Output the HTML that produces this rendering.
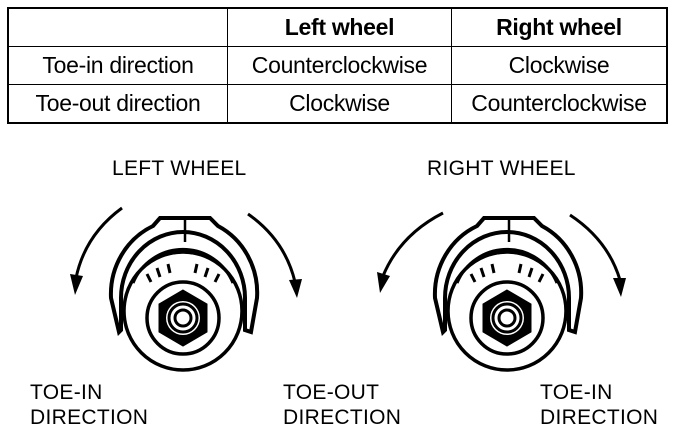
<!DOCTYPE html>
<html><head><style>
body{margin:0;background:#fff;width:688px;height:444px;overflow:hidden;font-family:"Liberation Sans",sans-serif}
table{position:absolute;left:7px;top:7px;border-collapse:collapse;border:2px solid #000}
td{border:1.5px solid #000;height:37px;text-align:center;font-size:23px;padding:0;letter-spacing:-0.3px}
svg{position:absolute;left:0;top:0}
.l{position:absolute;font-size:21px;line-height:25px;letter-spacing:0.3px}
</style></head><body>
<table>
<tr><td style="width:218px"></td><td style="width:223px;font-weight:bold">Left wheel</td><td style="width:214px;font-weight:bold">Right wheel</td></tr>
<tr><td>Toe-in direction</td><td>Counterclockwise</td><td>Clockwise</td></tr>
<tr><td>Toe-out direction</td><td>Clockwise</td><td>Counterclockwise</td></tr>
</table>
<div class="l" style="left:112px;top:156px">LEFT WHEEL</div>
<div class="l" style="left:427px;top:156px">RIGHT WHEEL</div>
<div class="l" style="left:30px;top:380px">TOE-IN<br>DIRECTION</div>
<div class="l" style="left:283px;top:380px">TOE-OUT<br>DIRECTION</div>
<div class="l" style="left:540px;top:380px">TOE-IN<br>DIRECTION</div>
<svg width="688" height="444">
<defs>
<g id="w" fill="none" stroke="#000">
<path d="M-64,14 L-72,-20 A72 75 0 0 1 -30,-92 L-23,-100 L27,-100 L35,-92 A72 75 0 0 1 74,-20 L68,14 L62,12 L62,-20 A62 66 0 0 0 -62,-20 L-62,12 Z" fill="#fff" stroke-width="4"/>
<line x1="2" y1="-100" x2="2" y2="-76" stroke-width="2.5"/>
<circle cx="0" cy="-7" r="59" stroke-width="3.5" fill="#fff"/>
<path d="M-50,-35 A54 54 0 0 1 50,-35" stroke-width="3"/>
<g stroke-width="3">
<line x1="-36" y1="-44" x2="-32" y2="-36"/><line x1="-26" y1="-50" x2="-23" y2="-41"/><line x1="-15" y1="-54" x2="-13" y2="-45"/>
<line x1="14" y1="-54" x2="12" y2="-45"/><line x1="25" y1="-50" x2="22" y2="-41"/><line x1="36" y1="-44" x2="32" y2="-36"/>
</g>
<circle r="36" stroke-width="3.5"/>
<polygon points="0,-28 24,-14 24,14 0,28 -24,14 -24,-14" fill="#000"/>
<circle r="17" fill="#fff" stroke="none"/>
<circle r="14" stroke-width="3"/>
<circle r="8" stroke-width="3"/>
</g>
</defs>
<use href="#w" x="183" y="318"/>
<use href="#w" x="507" y="318"/>
<g fill="none" stroke="#000" stroke-width="3">
<path d="M122,208 Q85,235 76,278"/><path d="M248,214 Q285,240 295,282"/>
<path d="M443,213 Q400,235 383,276"/><path d="M570,215 Q608,240 620,280"/>
</g>
<g fill="#000">
<polygon points="70,274 83,276 75,295"/><polygon points="289,280 302,279 297,298"/>
<polygon points="377,272 390,276 380,293"/><polygon points="613,278 626,278 621,297"/>
</g>
</svg>
</body></html>
